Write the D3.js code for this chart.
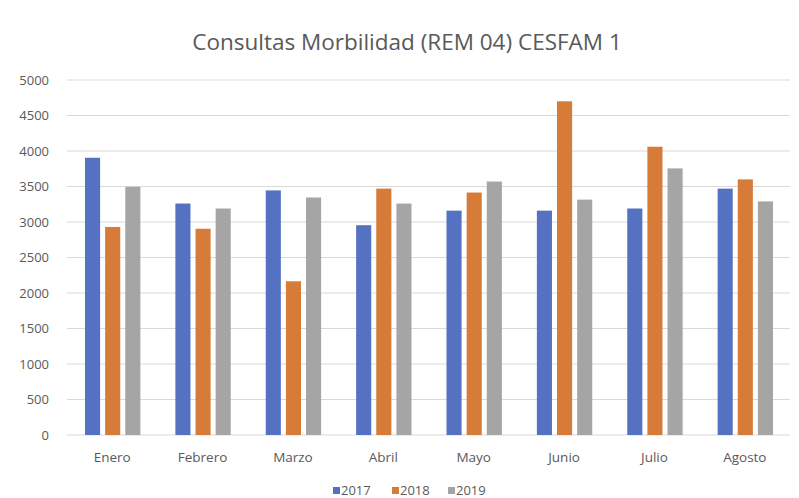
<!DOCTYPE html>
<html lang="es">
<head>
<meta charset="UTF-8">
<style>
  body { margin: 0; background: #fff; }
  svg text { font-family: "Open Sans", "Liberation Sans", sans-serif; fill: #595959; }
</style>
</head>
<body>
<svg id="chart" width="799" height="498"></svg>
<script src="https://cdn.jsdelivr.net/npm/d3@7"></script>
<script>
// data
var months = ["Enero", "Febrero", "Marzo", "Abril", "Mayo", "Junio", "Julio", "Agosto"];
var years = ["2017", "2018", "2019"];
var v2017 = [3905, 3260, 3445, 2955, 3160, 3160, 3190, 3470];
var v2018 = [2930, 2905, 2165, 3470, 3415, 4700, 4060, 3600];
var v2019 = [3495, 3190, 3345, 3260, 3570, 3315, 3755, 3290];
var yTicks = [0, 500, 1000, 1500, 2000, 2500, 3000, 3500, 4000, 4500, 5000];
var colors = ["#5572c2", "#d67b38", "#a5a5a5"];

var series = [v2017, v2018, v2019];
var svg = d3.select("#chart");
var margin = {left: 67, right: 9, top: 80, bottom: 63};
var W = 799, H = 498;

var x0 = d3.scaleBand().domain(months).range([margin.left, W - margin.right]).paddingInner(0).paddingOuter(0);
var x1 = d3.scaleBand().domain(years).range([18, x0.bandwidth() - 17]).paddingInner(0.25);
var y = d3.scaleLinear().domain([0, 5000]).range([H - margin.bottom, margin.top]);

// title
svg.append("text")
  .attr("x", 407).attr("y", 50)
  .attr("text-anchor", "middle")
  .style("font-size", "22.5px")
  .text("Consultas Morbilidad (REM 04) CESFAM 1");

// gridlines
svg.append("g").selectAll("line")
  .data(yTicks)
  .enter().append("line")
    .attr("x1", margin.left).attr("x2", W - margin.right)
    .attr("y1", function(d) { return y(d); })
    .attr("y2", function(d) { return y(d); })
    .attr("stroke", "#d9d9d9")
    .attr("stroke-width", 1);

// y axis labels
var yAxis = d3.axisLeft(y).tickValues(yTicks).tickSize(0).tickPadding(18).tickFormat(d3.format("d"));
var gy = svg.append("g").attr("transform", "translate(" + margin.left + ",0)").call(yAxis);
gy.select(".domain").remove();
gy.selectAll("text").style("font-size", "13px").attr("fill", "#595959");

// x axis labels
var xAxis = d3.axisBottom(x0).tickSize(0).tickPadding(17);
var gx = svg.append("g").attr("transform", "translate(0," + y(0) + ")").call(xAxis);
gx.select(".domain").remove();
gx.selectAll("text").style("font-size", "13.5px").attr("fill", "#595959");

// bars
var groups = svg.append("g").selectAll("g")
  .data(months)
  .enter().append("g")
    .attr("transform", function(d) { return "translate(" + x0(d) + ",0)"; });

groups.selectAll("rect")
  .data(function(m, i) { return years.map(function(yr, j) { return {year: yr, value: series[j][i], idx: j}; }); })
  .enter().append("rect")
    .attr("x", function(d) { return x1(d.year); })
    .attr("width", x1.bandwidth())
    .attr("y", function(d) { return y(d.value); })
    .attr("height", function(d) { return y(0) - y(d.value); })
    .attr("fill", function(d) { return colors[d.idx]; });

// legend
var legendX = [333, 392, 448];
var legend = svg.append("g").selectAll("g")
  .data(years)
  .enter().append("g")
    .attr("transform", function(d, i) { return "translate(" + legendX[i] + ",487)"; });
legend.append("rect").attr("width", 7).attr("height", 7).attr("fill", function(d, i) { return colors[i]; });
legend.append("text").attr("x", 8).attr("y", 8).style("font-size", "13px").text(function(d) { return d; });
</script>
</body>
</html>
